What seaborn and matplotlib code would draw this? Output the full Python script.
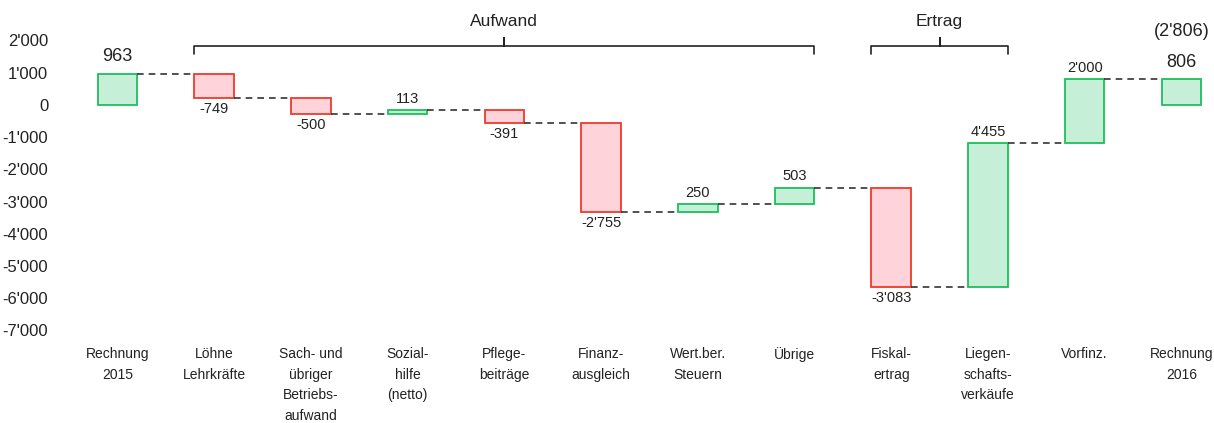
import numpy as np
import pandas as pd
import matplotlib
matplotlib.use("Agg")
import matplotlib.pyplot as plt
import seaborn as sns

categories = ["Rechnung\n2015", "Löhne\nLehrkräfte", "Sach- und\nübriger\nBetriebs-\naufwand",
              "Sozial-\nhilfe\n(netto)", "Pflege-\nbeiträge", "Finanz-\nausgleich",
              "Wert.ber.\nSteuern", "Übrige", "Fiskal-\nertrag", "Liegen-\nschafts-\nverkäufe",
              "Vorfinz.", "Rechnung\n2016"]
changes = [963, -749, -500, 113, -391, -2755, 250, 503, -3083, 4455, 2000, 806]
is_total = [True, False, False, False, False, False, False, False, False, False, False, True]
yticks = [2000, 1000, 0, -1000, -2000, -3000, -4000, -5000, -6000, -7000]
groups = [("Aufwand", 1, 7), ("Ertrag", 8, 9)]
extra_label = "(2'806)"

GREEN_FILL, GREEN_EDGE = "#c6efd8", "#1cbf5c"
RED_FILL, RED_EDGE = "#ffd3da", "#f03a2a"
BAR_W = 0.41


def fmt(v):
    return f"{v:,}".replace(",", "'")


# running totals -> bottoms of the floating bars
starts, running = [], 0
for c, tot in zip(changes, is_total):
    if tot:
        starts.append(0)
        running = c
    else:
        starts.append(running)
        running += c
ends = [s + c for s, c in zip(starts, changes)]

df = pd.DataFrame({"cat": categories, "change": changes, "start": starts, "end": ends})
df["cat"] = pd.Categorical(df["cat"], categories=categories, ordered=True)

sns.set_theme(style="white")
plt.rcParams["font.family"] = ["Liberation Sans", "DejaVu Sans"]

fig = plt.figure(figsize=(12.14, 4.23), dpi=100)
ax = fig.add_axes([0.049, 0.196, 0.948, 0.8])

sns.barplot(data=df, x="cat", y="change", bottom=df["start"].to_numpy(),
            color=GREEN_FILL, saturation=1, width=BAR_W, errorbar=None,
            ax=ax, linewidth=1.3)

for patch, c in zip(ax.patches, changes):
    if c >= 0:
        patch.set_facecolor(GREEN_FILL)
        patch.set_edgecolor(GREEN_EDGE)
    else:
        patch.set_facecolor(RED_FILL)
        patch.set_edgecolor(RED_EDGE)

# dashed connectors
for i in range(len(changes) - 1):
    level = ends[i]
    ax.plot([i + BAR_W / 2, i + 1 - BAR_W / 2], [level, level],
            color="#333333", linestyle=(0, (4, 3)), linewidth=1.2)

# value labels
for i, (c, tot) in enumerate(zip(changes, is_total)):
    top = max(starts[i], ends[i])
    bot = min(starts[i], ends[i])
    if tot:
        ax.annotate(fmt(c), (i, top), xytext=(0, 6), textcoords="offset points",
                    ha="center", va="bottom", fontsize=13, color="#222222")
    elif c >= 0:
        ax.annotate(fmt(c), (i, top), xytext=(0, 3), textcoords="offset points",
                    ha="center", va="bottom", fontsize=10.5, color="#222222")
    else:
        ax.annotate(fmt(c), (i, bot), xytext=(0, -3), textcoords="offset points",
                    ha="center", va="top", fontsize=10.5, color="#222222")

ax.annotate(extra_label, (len(changes) - 1, ends[-1]), xytext=(0, 28), textcoords="offset points",
            ha="center", va="bottom", fontsize=13, color="#222222")

# group brackets
for name, a, b in groups:
    x0, x1 = a - BAR_W / 2, b + BAR_W / 2
    xc = (x0 + x1) / 2
    ax.plot([x0, x0, xc, xc, xc, x1, x1], [1580, 1820, 1820, 2080, 1820, 1820, 1580],
            color="#222222", linewidth=1.2, solid_joinstyle="round")
    ax.text(xc, 2580, name, ha="center", va="center", fontsize=12.5, color="#222222")

ax.set_xlim(-0.6, len(changes) - 0.7)
ax.set_ylim(-7300, 3200)
ax.set_yticks(yticks)
ax.set_yticklabels([fmt(v) for v in yticks])
ax.set_xlabel("")
ax.set_ylabel("")
ax.tick_params(axis="y", length=0, pad=8, labelsize=12, labelcolor="#222222")
ax.tick_params(axis="x", length=0, pad=5, labelsize=10, labelcolor="#222222")
for lbl in ax.get_xticklabels():
    lbl.set_linespacing(1.6)
    lbl.set_verticalalignment("top")
sns.despine(ax=ax, left=True, bottom=True)

fig.savefig("out.png", dpi=100)
